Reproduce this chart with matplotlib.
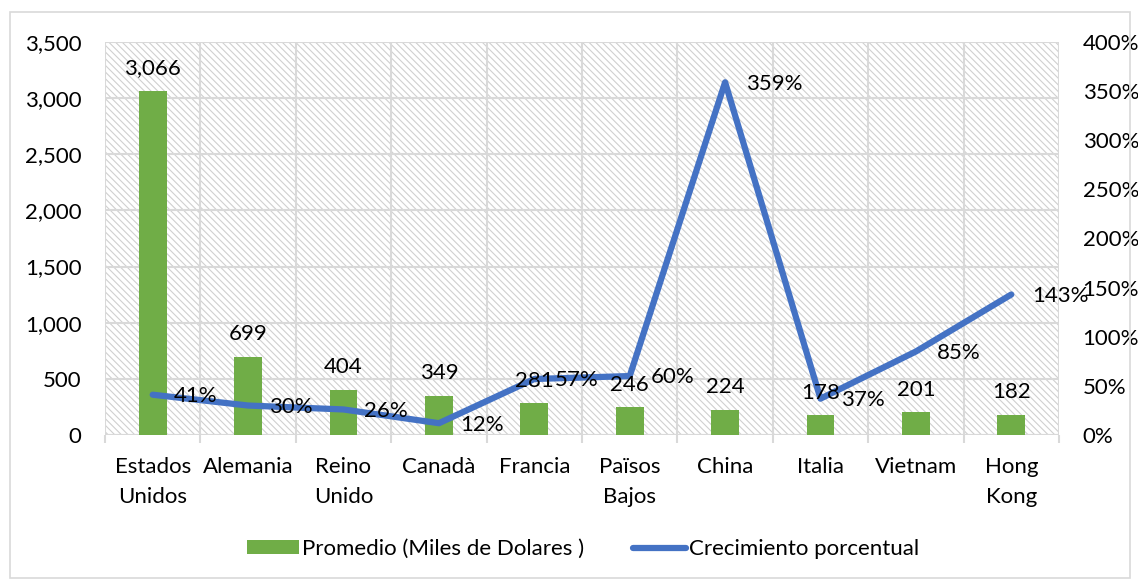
import numpy as np
import matplotlib
matplotlib.use("Agg")
import matplotlib.pyplot as plt
from matplotlib.patches import Rectangle, Patch
from matplotlib.lines import Line2D
from matplotlib.ticker import FuncFormatter, MultipleLocator

# data
paises = ["Estados\nUnidos", "Alemania", "Reino\nUnido", "Canadà", "Francia",
          "Països\nBajos", "China", "Italia", "Vietnam", "Hong\nKong"]
promedio = [3066, 699, 404, 349, 281, 246, 224, 178, 201, 182]
crecimiento = [41, 30, 26, 12, 57, 60, 359, 37, 85, 143]

VERDE = "#70AD47"
AZUL = "#4472C4"
GRIS = "#D9D9D9"
FS = 16

plt.rcParams["font.family"] = ["Lato", "DejaVu Sans"]
plt.rcParams["hatch.color"] = "#D0D0D0"
plt.rcParams["hatch.linewidth"] = 0.8

fig = plt.figure(figsize=(11.38, 5.82), dpi=100)
fig.patches.append(Rectangle((10 / 1138, 1 - 578 / 582), 1120 / 1138, 566 / 582,
                             transform=fig.transFigure, fill=False,
                             edgecolor=GRIS, linewidth=1.2))

ax = fig.add_axes([105 / 1138, 1 - 435 / 582, 954 / 1138, 393 / 582])
x = np.arange(len(paises))

# hatched plot area
ax.add_patch(Rectangle((0, 0), 1, 1, transform=ax.transAxes, facecolor="white",
                       hatch="\\\\\\\\\\", edgecolor="#D0D0D0", linewidth=0, zorder=0))

ax.bar(x, promedio, width=0.29, color=VERDE, zorder=3)

ax.set_xlim(-0.5, len(paises) - 0.5)
ax.set_ylim(0, 3500)
ax.yaxis.set_major_locator(MultipleLocator(500))
ax.yaxis.set_major_formatter(FuncFormatter(lambda v, _: f"{int(v):,}"))
ax.set_xticks(x)
ax.set_xticklabels(paises, fontsize=FS, linespacing=1.6)
ax.set_xticks(np.arange(-0.5, len(paises)), minor=True)
ax.tick_params(axis="x", which="major", length=0, pad=16)
ax.tick_params(axis="x", which="minor", length=6, color=GRIS, width=1.5)
ax.tick_params(axis="y", length=0, labelsize=FS, pad=17)
ax.grid(True, axis="y", color=GRIS, linewidth=1.5, zorder=1)
ax.grid(True, axis="x", which="minor", color=GRIS, linewidth=1.5, zorder=1)
ax.set_axisbelow(True)
for s in ax.spines.values():
    s.set_visible(False)
ax.axhline(0, color=GRIS, linewidth=1.5, zorder=2)

ax2 = ax.twinx()
ax2.plot(x, crecimiento, color=AZUL, linewidth=4.5, solid_capstyle="round",
         solid_joinstyle="round", zorder=4)
# labels drawn on the top axes so they sit above the line, as in Excel
for xi, v in zip(x, promedio):
    ax2.annotate(f"{v:,}", (xi, v), xycoords=ax.transData, xytext=(0, 9),
                 textcoords="offset points", ha="center", va="bottom",
                 fontsize=FS, zorder=6)
for xi, v in zip(x, crecimiento):
    ax2.annotate(f"{v}%", (xi, v), xytext=(15, -1), textcoords="offset points",
                 ha="left", va="center", fontsize=FS, zorder=6)
ax2.set_ylim(0, 400)
ax2.yaxis.set_major_locator(MultipleLocator(50))
ax2.yaxis.set_major_formatter(FuncFormatter(lambda v, _: f"{int(v)}%"))
ax2.tick_params(axis="y", length=0, labelsize=FS, pad=17)
for s in ax2.spines.values():
    s.set_visible(False)

handles = [Patch(facecolor=VERDE, edgecolor="none"),
           Line2D([], [], color=AZUL, linewidth=4.5, solid_capstyle="round")]
fig.legend(handles, ["Promedio (Miles de Dolares )", "Crecimiento porcentual"],
           loc="center", bbox_to_anchor=(583 / 1138, 1 - 549 / 582), ncol=2,
           frameon=False, fontsize=FS, handlelength=2.35, handleheight=0.55,
           handletextpad=0.15, columnspacing=2.2)

fig.savefig("out.png", dpi=100)
